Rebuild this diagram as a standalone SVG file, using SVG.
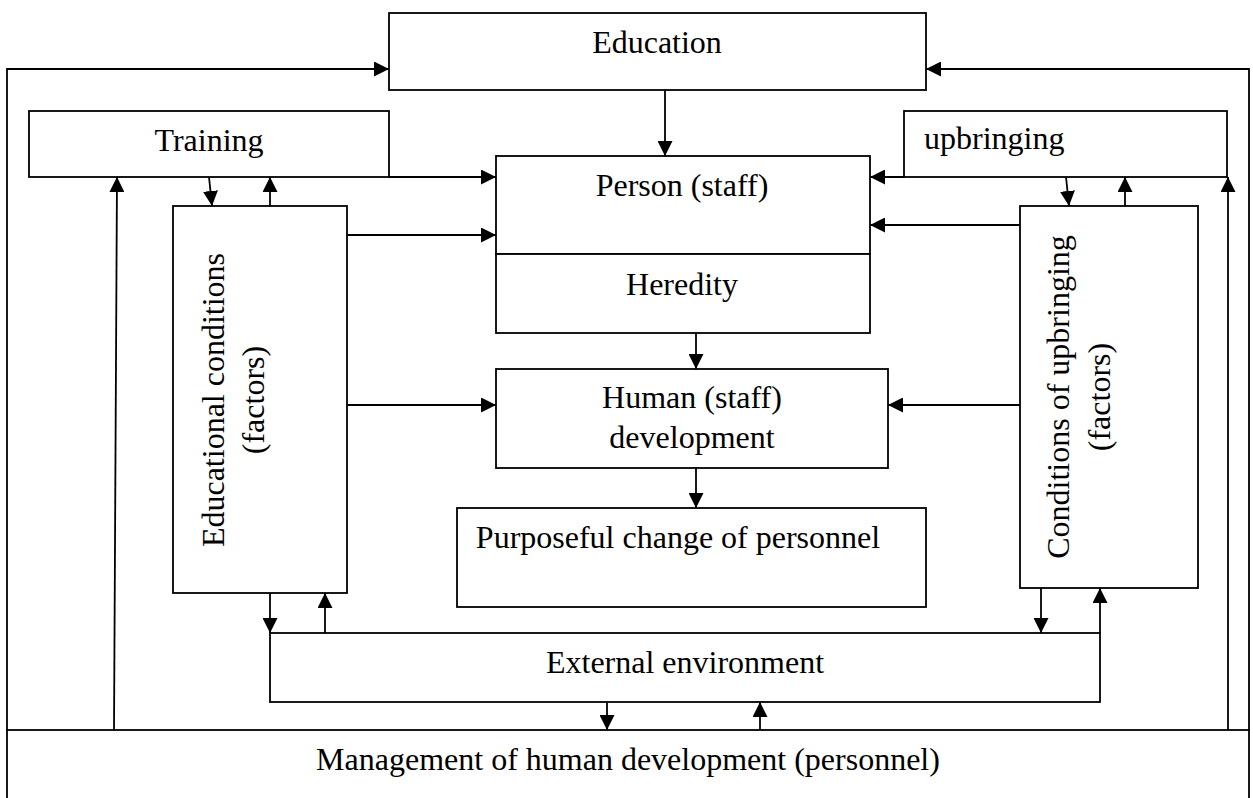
<svg xmlns="http://www.w3.org/2000/svg" width="1253" height="798" viewBox="0 0 1253 798">
<style>
.box{fill:#fff;stroke:#000;stroke-width:1.8}
.t{font-family:"Liberation Serif","Times New Roman",serif;font-size:32px;fill:#000}
.c{text-anchor:middle}
.ln{fill:none;stroke:#000;stroke-width:1.8;marker-end:url(#ah)}
</style>
<defs>
<marker id="ah" markerUnits="userSpaceOnUse" markerWidth="16" markerHeight="15" refX="15" refY="7.5" orient="auto">
<path d="M0,0 L15,7.5 L0,15 z" fill="#000"/>
</marker>
</defs>
<g id="management"><rect class="box" x="7" y="730" width="1242" height="80"/><text class="t c" x="628" y="770">Management of human development (personnel)</text></g>
<g id="education"><rect class="box" x="389" y="13" width="537" height="77"/><text class="t c" x="657" y="53">Education</text></g>
<g id="training"><rect class="box" x="29" y="111" width="360" height="66"/><text class="t c" x="209" y="151">Training</text></g>
<g id="upbringing"><rect class="box" x="904" y="111" width="323" height="66"/><text class="t" x="924" y="149">upbringing</text></g>
<g id="person"><rect class="box" x="496" y="156" width="374" height="98"/><text class="t c" x="682" y="196">Person (staff)</text></g>
<g id="heredity"><rect class="box" x="496" y="254" width="374" height="79"/><text class="t c" x="682" y="295">Heredity</text></g>
<g id="human-dev"><rect class="box" x="496" y="369" width="392" height="99"/><text class="t c" x="692" y="408">Human (staff)</text><text class="t c" x="692" y="448">development</text></g>
<g id="purposeful"><rect class="box" x="457" y="508" width="469" height="99"/><text class="t c" x="678" y="548">Purposeful change of personnel</text></g>
<g id="edu-conditions"><rect class="box" x="173" y="206" width="174" height="387"/><text class="t c" transform="translate(224,400) rotate(-90)">Educational conditions</text><text class="t c" transform="translate(264,400) rotate(-90)">(factors)</text></g>
<g id="upbringing-conditions"><rect class="box" x="1020" y="206" width="178" height="382"/><text class="t c" transform="translate(1069,397) rotate(-90)">Conditions of upbringing</text><text class="t c" transform="translate(1110,397) rotate(-90)">(factors)</text></g>
<g id="external"><rect class="box" x="270" y="633" width="830" height="69"/><text class="t c" x="685" y="673">External environment</text></g>
<g id="connectors">
<path class="ln" d="M7,730 V69 H389"/>
<path class="ln" d="M1249,730 V69 H926"/>
<path class="ln" d="M114,730 L117,177"/>
<path class="ln" d="M1228,730 V177"/>
<path class="ln" d="M389,177 H496"/>
<path class="ln" d="M904,177 H870"/>
<path class="ln" d="M665,90 V156"/>
<path class="ln" d="M209,177 L212,206"/>
<path class="ln" d="M270,206 V177"/>
<path class="ln" d="M1066,177 L1069,206"/>
<path class="ln" d="M1125,206 V177"/>
<path class="ln" d="M347,235 H496"/>
<path class="ln" d="M347,405 H496"/>
<path class="ln" d="M1020,225 H870"/>
<path class="ln" d="M1020,405 H888"/>
<path class="ln" d="M696,333 V369"/>
<path class="ln" d="M696,468 V508"/>
<path class="ln" d="M270,593 V633"/>
<path class="ln" d="M325,633 V593"/>
<path class="ln" d="M1041,588 V633"/>
<path class="ln" d="M1100,633 V588"/>
<path class="ln" d="M607,702 V730"/>
<path class="ln" d="M760,730 V702"/>
</g>
</svg>
